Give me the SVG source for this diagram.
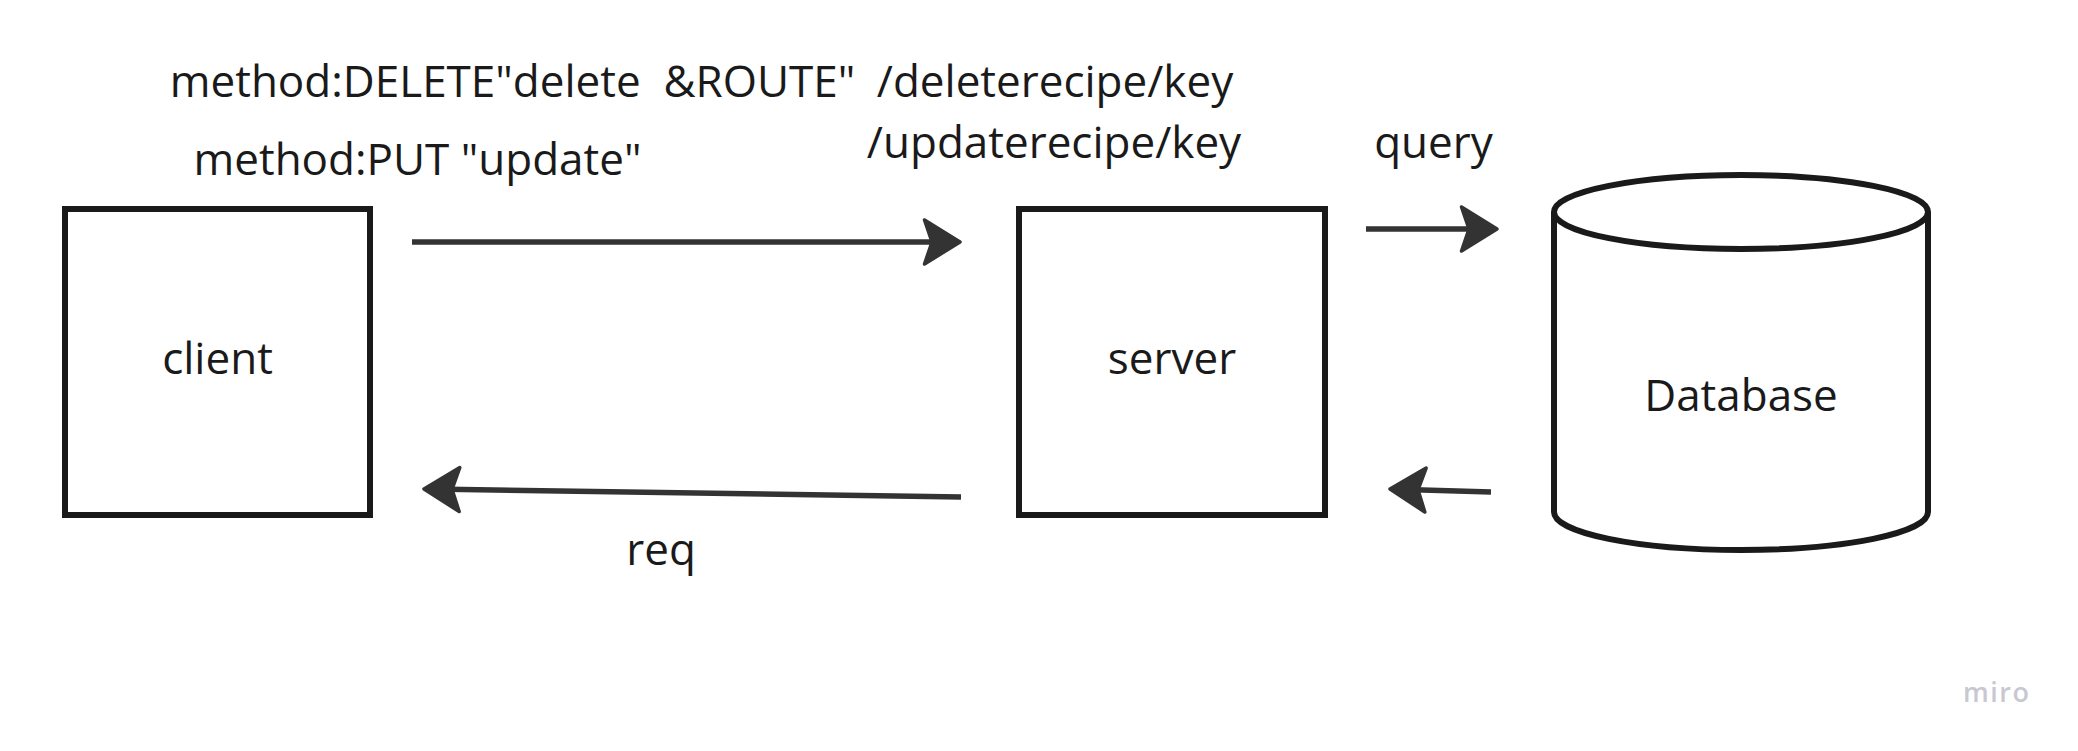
<svg xmlns="http://www.w3.org/2000/svg" width="2078" height="751" viewBox="0 0 2078 751">
  <style>
    .lbl { font-family: "Open Sans", "Noto Sans", "Liberation Sans", sans-serif; font-size: 44px; fill: #1a1a1a; white-space: pre; }
    .mid { text-anchor: middle; }
    .box { fill: #ffffff; stroke: #1a1a1a; stroke-width: 6; }
    .conn { fill: none; stroke: #333333; stroke-width: 5.5; stroke-linecap: butt; }
    .wm { font-family: "Open Sans", "Noto Sans", sans-serif; font-size: 27px; font-weight: 600; fill: #c8c8d2; letter-spacing: 1.5px; }
  </style>
  <defs>
    <marker id="ah" markerUnits="userSpaceOnUse" markerWidth="52" markerHeight="60" viewBox="-4 -30 52 60" refX="30" refY="0" orient="auto">
      <path d="M1.5,-22 L37,0 L1.5,22 L9,0 Z" fill="#333333" stroke="#333333" stroke-width="3.5" stroke-linejoin="round"/>
    </marker>
  </defs>
  <rect width="2078" height="751" fill="#ffffff"/>

  <g id="client">
    <rect class="box" x="65" y="209" width="305" height="306"/>
    <text class="lbl mid" x="217.5" y="374">client</text>
  </g>

  <g id="server">
    <rect class="box" x="1019" y="209" width="306" height="306"/>
    <text class="lbl mid" x="1172" y="374">server</text>
  </g>

  <g id="database">
    <path class="box" d="M1554,212 L1554,512 A187,38 0 0 0 1928,512 L1928,212"/>
    <ellipse class="box" cx="1741" cy="212" rx="187" ry="37"/>
    <text class="lbl mid" x="1741" y="411">Database</text>
  </g>

  <g id="connectors">
    <line class="conn" x1="412" y1="242" x2="953" y2="242" marker-end="url(#ah)"/>
    <line class="conn" x1="961" y1="497" x2="431" y2="489.1" marker-end="url(#ah)"/>
    <line class="conn" x1="1366" y1="229" x2="1490" y2="229" marker-end="url(#ah)"/>
    <line class="conn" x1="1491" y1="492" x2="1397" y2="489.2" marker-end="url(#ah)"/>
  </g>

  <g id="labels">
    <text class="lbl mid" x="512.5" y="97" xml:space="preserve">method:DELETE"delete  &amp;ROUTE"</text>
    <text class="lbl mid" x="1055" y="97">/deleterecipe/key</text>
    <text class="lbl mid" x="1054" y="158">/updaterecipe/key</text>
    <text class="lbl mid" x="417.5" y="175">method:PUT "update"</text>
    <text class="lbl mid" x="1433.5" y="158">query</text>
    <text class="lbl mid" x="661" y="565">req</text>
  </g>

  <text class="wm" x="1963" y="702">miro</text>
</svg>
